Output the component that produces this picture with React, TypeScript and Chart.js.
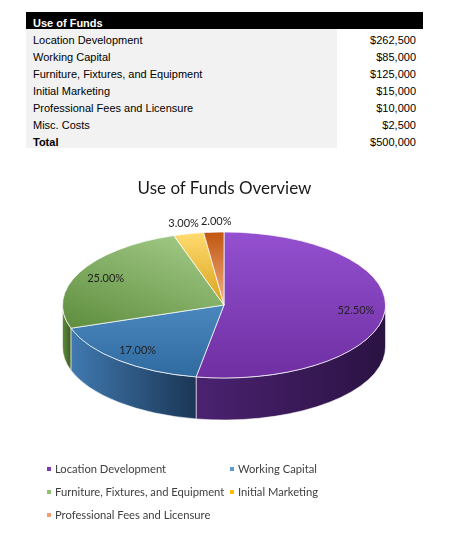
import { useEffect, useRef } from 'react'
import { Chart, registerables } from 'chart.js'
Chart.register(...registerables)

const categories = [
    'Location Development',
    'Working Capital',
    'Furniture, Fixtures, and Equipment',
    'Initial Marketing',
    'Professional Fees and Licensure',
]
const amounts = [262500, 85000, 125000, 15000, 10000]
const tableItems = [...categories, 'Misc. Costs']
const tableAmounts = [262500, 85000, 125000, 15000, 10000, 2500]
const fundsTotal = 500000

// top face gradient stops, side gradient stops, legend swatch
const topColors = [
    ['#9450d0', '#6f2fa2'],
    ['#66a5dd', '#2f6a9f'],
    ['#acd392', '#5e8d3d'],
    ['#ffdc70', '#d9a11c'],
    ['#c0550f', '#f4b384'],
]
const sideColors = [
    ['#4b2271', '#2a1242'],
    ['#4079b0', '#1b3655'],
    ['#5f8d3d', '#3c5d25'],
    ['#d9a11c', '#a57a10'],
    ['#c0550f', '#8a3c0a'],
]
const swatches = ['#7a3cb0', '#5b9bd5', '#8fbf6f', '#ffc000', '#f0a070']

const CENTER_Y = 145   // canvas coords of the pie's centre after tilt
const RY = 73
const DEPTH = 42
const FONT = 'Lato, "Open Sans", sans-serif'

const fmtMoney = (v: number) => '$' + v.toLocaleString('en-US')

const pie3d = {
    id: 'pie3d',
    beforeDatasetsDraw(chart: any) {
        const arcs = chart.getDatasetMeta(0).data as any[]
        if (!arcs.length) return
        const ctx = chart.ctx as CanvasRenderingContext2D
        const a0 = arcs[0]
        const R = a0.outerRadius
        const cx = a0.x
        const cy = CENTER_Y
        arcs.forEach((arc, i) => {
            const s = arc.startAngle, e = arc.endAngle
            for (let n = -1; n <= 1; n++) {
                const lo = Math.max(s, n * 2 * Math.PI)
                const hi = Math.min(e, n * 2 * Math.PI + Math.PI)
                if (hi <= lo) continue
                const xl = cx + R * Math.cos(hi)
                const xr = cx + R * Math.cos(lo)
                const g = ctx.createLinearGradient(xl, 0, xr + 0.01, 0)
                g.addColorStop(0, sideColors[i][0])
                g.addColorStop(1, sideColors[i][1])
                ctx.beginPath()
                ctx.ellipse(cx, cy, R, RY, 0, lo, hi)
                ctx.ellipse(cx, cy + DEPTH, R, RY, 0, hi, lo, true)
                ctx.closePath()
                ctx.fillStyle = g
                ctx.fill()
                ctx.strokeStyle = 'rgba(255,255,255,0.7)'
                ctx.lineWidth = 0.8
                ctx.stroke()
            }
        })
        ctx.save()
        ctx.translate(cx, cy)
        ctx.scale(1, RY / R)
        ctx.translate(-a0.x, -a0.y)
    },
    afterDatasetsDraw(chart: any) {
        const arcs = chart.getDatasetMeta(0).data as any[]
        if (!arcs.length) return
        const ctx = chart.ctx as CanvasRenderingContext2D
        ctx.restore()
        const R = arcs[0].outerRadius
        const cx = arcs[0].x
        ctx.font = '11px ' + FONT
        ctx.fillStyle = '#222'
        ctx.textBaseline = 'middle'
        ctx.textAlign = 'left'
        let lastRight = -Infinity
        arcs.forEach((arc, i) => {
            const pct = amounts[i] / fundsTotal * 100
            const text = pct.toFixed(2) + '%'
            const w = ctx.measureText(text).width
            const mid = (arc.startAngle + arc.endAngle) / 2
            const f = pct >= 5 ? 0.82 : 1.14
            let x = cx + f * R * Math.cos(mid) - w / 2
            const y = CENTER_Y + f * RY * Math.sin(mid)
            if (pct < 5) {
                if (x < lastRight + 2) x = lastRight + 2
                lastRight = x + w
            }
            ctx.fillText(text, x, y)
        })
    },
}

function PieChart() {
    const canvasRef = useRef<HTMLCanvasElement>(null)
    const chartRef = useRef<Chart | null>(null)

    useEffect(() => {
        if (!canvasRef.current) return
        const ctx = canvasRef.current.getContext('2d')!
        chartRef.current?.destroy()
        chartRef.current = new Chart(ctx, {
            type: 'pie',
            data: {
                labels: categories,
                datasets: [{
                    data: amounts,
                    backgroundColor: (c: any) => {
                        const i = c.dataIndex
                        const area = c.chart.chartArea
                        if (!area) return topColors[i][1]
                        const x0 = (area.left + area.right) / 2
                        const y0 = (area.top + area.bottom) / 2
                        const r = (area.right - area.left) / 2
                        let g: CanvasGradient
                        if (i === 2) g = c.chart.ctx.createLinearGradient(x0 + r * 0.1, y0 - r, x0 - r, y0 + r * 0.3)
                        else if (i >= 3) g = c.chart.ctx.createLinearGradient(0, y0 - r, 0, y0)
                        else g = c.chart.ctx.createLinearGradient(0, y0 - r, 0, y0 + r)
                        g.addColorStop(0, topColors[i][0])
                        g.addColorStop(1, topColors[i][1])
                        return g
                    },
                    borderColor: '#ffffff',
                    borderWidth: 1,
                    clip: false,
                } as any],
            },
            options: {
                responsive: true, maintainAspectRatio: false,
                animation: false,
                events: [],
                layout: { padding: { left: 62, right: 65, top: 0, bottom: 49 } },
                plugins: {
                    legend: { display: false },
                    tooltip: { enabled: false },
                },
            },
            plugins: [pie3d],
        })
        return () => chartRef.current?.destroy()
    }, [])

    return (
        <div style={{ position: 'absolute', left: 0, top: 160, width: 451, height: 373 }}>
            <canvas ref={canvasRef} />
        </div>
    )
}

export default function App() {
    useEffect(() => { document.body.style.margin = '0' }, [])
    const cell = { height: 17, lineHeight: '17px', boxSizing: 'border-box' as const, paddingTop: 3 }
    return (
        <div style={{ position: 'relative', width: 451, height: 533, background: '#fff', overflow: 'hidden' }}>
            <div style={{ position: 'absolute', left: 26, top: 12, width: 397, fontFamily: '"Liberation Sans", Arial, sans-serif', fontSize: 11, color: '#000' }}>
                <div style={{ ...cell, background: '#000', color: '#fff', fontWeight: 700, paddingLeft: 7, overflow: 'hidden' }}>Use of Funds</div>
                {tableItems.map((name, i) => (
                    <div key={name} style={{ display: 'flex', height: 17 }}>
                        <div style={{ ...cell, width: 311, paddingLeft: 7, background: '#f2f2f2' }}>{name}</div>
                        <div style={{ ...cell, flex: 1, textAlign: 'right', paddingRight: 7 }}>{fmtMoney(tableAmounts[i])}</div>
                    </div>
                ))}
                <div style={{ display: 'flex', height: 17, fontWeight: 700 }}>
                    <div style={{ ...cell, width: 311, paddingLeft: 7, background: '#f2f2f2' }}>Total</div>
                    <div style={{ ...cell, flex: 1, textAlign: 'right', paddingRight: 7, fontWeight: 400 }}>{fmtMoney(fundsTotal)}</div>
                </div>
            </div>

            <PieChart />

            <div style={{ position: 'absolute', left: 0, width: 449, top: 176, textAlign: 'center', fontFamily: FONT, fontSize: 17, lineHeight: '24px', color: '#1a1a1a' }}>
                Use of Funds Overview
            </div>

            <div style={{ position: 'absolute', left: 47, top: 457, display: 'grid', gridTemplateColumns: '183px 183px', fontFamily: FONT, fontSize: 11.2, color: '#404040', whiteSpace: 'nowrap' }}>
                {categories.map((name, i) => (
                    <div key={name} style={{ display: 'flex', alignItems: 'center', height: 23 }}>
                        <span style={{ width: 4, height: 4, background: swatches[i], marginRight: 4, flexShrink: 0 }} />
                        {name}
                    </div>
                ))}
            </div>
        </div>
    )
}
